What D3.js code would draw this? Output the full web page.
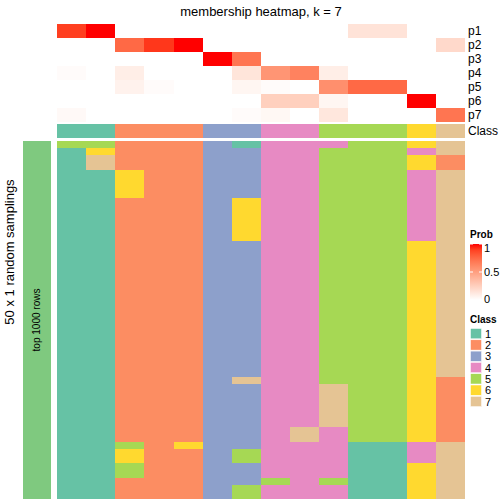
<!DOCTYPE html>
<html><head><meta charset="utf-8">
<script src="https://cdn.jsdelivr.net/npm/d3@7"></script>
<style>body{margin:0;background:#fff}svg{display:block}text{font-family:"Liberation Sans",Arial,Helvetica,sans-serif;fill:#000}</style>
</head><body><svg id="c" width="504" height="504"></svg>
<script>
// ---- data ----
const title = "membership heatmap, k = 7";
const sampleCols = ["c1","c2","c3","c4","c5","c6","c7","c8","c9","c10","c11","c12","c13","c14"];
const probRows = ["p1","p2","p3","p4","p5","p6","p7"];
const p1 = [0.9,1.0,0,0,0,0,0,0,0,0,0.15,0.15,0,0];
const p2 = [0,0,0.75,0.92,1.0,0,0,0,0,0,0,0,0,0.2];
const p3 = [0,0,0,0,0,1.0,0.7,0,0,0,0,0,0,0];
const p4 = [0.02,0,0.09,0,0,0,0.14,0.55,0.64,0.09,0,0,0,0];
const p5 = [0,0,0.07,0.02,0,0,0.05,0.02,0,0.58,0.75,0.75,0,0];
const p6 = [0,0,0,0,0,0,0,0.25,0.25,0.05,0,0,1.0,0];
const p7 = [0.03,0,0,0,0,0,0.02,0.04,0,0.13,0,0,0,0.7];
const classBar = [1,1,2,2,2,3,3,4,4,5,5,5,6,7];
const classLabels = ["1","2","3","4","5","6","7"];
const classColors = ["#66C2A5","#FC8D62","#8DA0CB","#E78AC3","#A6D854","#FFD92F","#E5C494"];
const probTicks = [0, 0.5, 1];
const samplings = [
 [5,5,2,2,2,3,1,4,4,4,5,5,6,7],
 [1,6,2,2,2,3,3,4,4,5,5,5,4,7],
 [1,7,2,2,2,3,3,4,4,5,5,5,6,2],
 [1,7,2,2,2,3,3,4,4,5,5,5,6,2],
 [1,1,6,2,2,3,3,4,4,5,5,5,4,7],
 [1,1,6,2,2,3,3,4,4,5,5,5,4,7],
 [1,1,6,2,2,3,3,4,4,5,5,5,4,7],
 [1,1,6,2,2,3,3,4,4,5,5,5,4,7],
 [1,1,2,2,2,3,6,4,4,5,5,5,4,7],
 [1,1,2,2,2,3,6,4,4,5,5,5,4,7],
 [1,1,2,2,2,3,6,4,4,5,5,5,4,7],
 [1,1,2,2,2,3,6,4,4,5,5,5,4,7],
 [1,1,2,2,2,3,6,4,4,5,5,5,4,7],
 [1,1,2,2,2,3,6,4,4,5,5,5,4,7],
 [1,1,2,2,2,3,3,4,4,5,5,5,6,7],
 [1,1,2,2,2,3,3,4,4,5,5,5,6,7],
 [1,1,2,2,2,3,3,4,4,5,5,5,6,7],
 [1,1,2,2,2,3,3,4,4,5,5,5,6,7],
 [1,1,2,2,2,3,3,4,4,5,5,5,6,7],
 [1,1,2,2,2,3,3,4,4,5,5,5,6,7],
 [1,1,2,2,2,3,3,4,4,5,5,5,6,7],
 [1,1,2,2,2,3,3,4,4,5,5,5,6,7],
 [1,1,2,2,2,3,3,4,4,5,5,5,6,7],
 [1,1,2,2,2,3,3,4,4,5,5,5,6,7],
 [1,1,2,2,2,3,3,4,4,5,5,5,6,7],
 [1,1,2,2,2,3,3,4,4,5,5,5,6,7],
 [1,1,2,2,2,3,3,4,4,5,5,5,6,7],
 [1,1,2,2,2,3,3,4,4,5,5,5,6,7],
 [1,1,2,2,2,3,3,4,4,5,5,5,6,7],
 [1,1,2,2,2,3,3,4,4,5,5,5,6,7],
 [1,1,2,2,2,3,3,4,4,5,5,5,6,7],
 [1,1,2,2,2,3,3,4,4,5,5,5,6,7],
 [1,1,2,2,2,3,3,4,4,5,5,5,6,7],
 [1,1,2,2,2,3,7,4,4,5,5,5,6,2],
 [1,1,2,2,2,3,3,4,4,7,5,5,6,2],
 [1,1,2,2,2,3,3,4,4,7,5,5,6,2],
 [1,1,2,2,2,3,3,4,4,7,5,5,6,2],
 [1,1,2,2,2,3,3,4,4,7,5,5,6,2],
 [1,1,2,2,2,3,3,4,4,7,5,5,6,2],
 [1,1,2,2,2,3,3,4,4,7,5,5,6,2],
 [1,1,2,2,2,3,3,4,7,4,5,5,6,2],
 [1,1,2,2,2,3,3,4,7,4,5,5,6,2],
 [1,1,5,2,6,3,3,4,4,4,1,1,4,7],
 [1,1,6,2,2,3,5,4,4,4,1,1,4,7],
 [1,1,6,2,2,3,5,4,4,4,1,1,4,7],
 [1,1,5,2,2,3,3,4,4,4,1,1,6,7],
 [1,1,5,2,2,3,3,4,4,4,1,1,6,7],
 [1,1,2,2,2,3,3,5,4,5,1,1,6,7],
 [1,1,2,2,2,3,5,4,4,4,1,1,6,7],
 [1,1,2,2,2,3,5,4,4,4,1,1,6,7]
];
const probMatrix = [p1,p2,p3,p4,p5,p6,p7];

// ---- drawing ----
const svg = d3.select("#c");
const x = d3.scaleBand().domain(sampleCols).range([57,465]);
const yP = d3.scaleBand().domain(probRows).range([24,122]);
const yS = d3.scaleBand().domain(d3.range(samplings.length)).range([141,499]);
const probColor = d3.scaleLinear().domain([0,1]).range(["#ffffff","#ff0000"]).interpolate(d3.interpolateLab);
const classColor = d3.scaleOrdinal().domain([1,2,3,4,5,6,7]).range(classColors);

svg.append("text").attr("x",261).attr("y",16).attr("text-anchor","middle")
  .style("font-size","13px").text(title);

// probability heatmap
const gP = svg.append("g").attr("shape-rendering","crispEdges");
probRows.forEach((r,i)=>{
  gP.selectAll(null).data(probMatrix[i]).join("rect")
    .attr("x",(d,j)=>x(sampleCols[j])).attr("y",yP(r))
    .attr("width",x.bandwidth()+0.3).attr("height",yP.bandwidth()+0.3)
    .attr("fill",d=>probColor(d));
  svg.append("text").attr("x",468).attr("y",yP(r)+yP.bandwidth()/2).attr("dy","0.35em")
    .style("font-size","12px").text(r);
});

// class annotation
svg.append("g").attr("shape-rendering","crispEdges").selectAll("rect").data(classBar).join("rect")
  .attr("x",(d,j)=>x(sampleCols[j])).attr("y",124)
  .attr("width",x.bandwidth()+0.3).attr("height",14)
  .attr("fill",d=>classColor(d));
svg.append("text").attr("x",468).attr("y",131).attr("dy","0.35em")
  .style("font-size","12px").text("Class");

// samplings heatmap
const gS = svg.append("g").attr("shape-rendering","crispEdges");
samplings.forEach((row,i)=>{
  gS.selectAll(null).data(row).join("rect")
    .attr("x",(d,j)=>x(sampleCols[j])).attr("y",yS(i))
    .attr("width",x.bandwidth()+0.3).attr("height",yS.bandwidth()+0.3)
    .attr("fill",d=>classColor(d));
});

// left bar
svg.append("rect").attr("x",23).attr("y",141).attr("width",28).attr("height",358).attr("fill","#7FC97F");
svg.append("text").attr("transform","translate(40,320) rotate(-90)").attr("text-anchor","middle")
  .style("font-size","10px").text("top 1000 rows");
svg.append("text").attr("transform","translate(14,252) rotate(-90)").attr("text-anchor","middle")
  .style("font-size","13px").text("50 x 1 random samplings");

// Prob legend
svg.append("text").attr("x",470).attr("y",238).style("font-size","10px").style("font-weight","bold").text("Prob");
const yL = d3.scaleLinear().domain([0,1]).range([300,244]);
const grad = svg.append("defs").append("linearGradient").attr("id","pg")
  .attr("x1",0).attr("x2",0).attr("y1",1).attr("y2",0);
grad.selectAll("stop").data(d3.range(0,1.0001,0.1)).join("stop")
  .attr("offset",d=>d).attr("stop-color",d=>probColor(d));
svg.append("rect").attr("x",470).attr("y",244).attr("width",12).attr("height",56).attr("fill","url(#pg)");
probTicks.forEach(t=>{
  svg.append("line").attr("x1",470).attr("x2",473).attr("y1",yL(t)).attr("y2",yL(t)).attr("stroke","#fff");
  svg.append("line").attr("x1",479).attr("x2",482).attr("y1",yL(t)).attr("y2",yL(t)).attr("stroke","#fff");
  svg.append("text").attr("x",484).attr("y",Math.max(248,Math.min(299,yL(t)))).attr("dy","0.35em")
    .style("font-size","11px").text(t);
});

// Class legend
svg.append("text").attr("x",470).attr("y",323).style("font-size","10px").style("font-weight","bold").text("Class");
classLabels.forEach((l,i)=>{
  svg.append("rect").attr("x",470.5).attr("y",328.5+i*11.3).attr("width",11).attr("height",10.3)
    .attr("fill",classColors[i]).attr("stroke","#fff").attr("stroke-width",0.5);
  svg.append("text").attr("x",485).attr("y",334+i*11.3).attr("dy","0.35em").style("font-size","11px").text(l);
});
</script></body></html>
